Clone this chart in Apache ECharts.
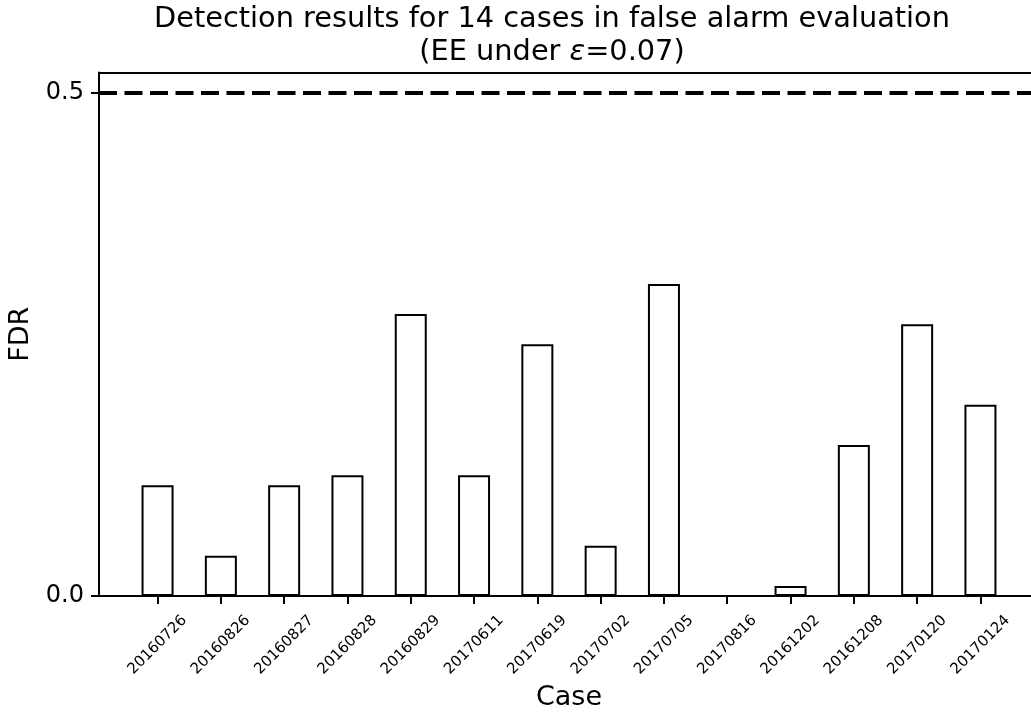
<!DOCTYPE html>
<html>
<head>
<meta charset="utf-8">
<script src="https://cdn.jsdelivr.net/npm/echarts@6/dist/echarts.min.js"></script>
<style>html,body{margin:0;padding:0;background:#fff}#c{width:1031px;height:713px}</style>
</head>
<body>
<div id="c"></div>
<script>
var categories = ['20160726','20160826','20160827','20160828','20160829','20170611','20170619','20170702','20170705','20170816','20161202','20161208','20170120','20170124'];
var fdrValues = [0.11, 0.04, 0.11, 0.12, 0.28, 0.12, 0.25, 0.05, 0.31, 0.0, 0.01, 0.15, 0.27, 0.19];
var yTicks = [0, 0.5];
var threshold = 0.5;

var tickIdx = categories.map(function(c, i){ return i; });
var barData = categories.map(function(c, i){ return [i, fdrValues[i]]; });

var xMin = -0.925, xMax = 13.925;
var chart = echarts.init(document.getElementById('c'));
var font = 'DejaVu Sans';
chart.setOption({
  backgroundColor: '#fff',
  animation: false,
  title: {
    text: '{a|Detection results for 14 cases in false alarm evaluation}\n{a|(EE under }{i|ε}{a|=0.07)}',
    left: 547,
    top: -2,
    textAlign: 'center',
    textStyle: {
      fontWeight: 'normal',
      rich: {
        a: {fontFamily: font, fontSize: 28.8, fontWeight: 'normal', color: '#000', lineHeight: 33},
        i: {fontFamily: font, fontSize: 28.8, fontWeight: 'normal', color: '#000', fontStyle: 'italic', lineHeight: 33}
      }
    }
  },
  grid: {left: 99, top: 72.5, bottom: 117, width: 940, show: false, containLabel: false, outerBoundsMode: 'none'},
  xAxis: [{
    type: 'value',
    min: xMin,
    max: xMax,
    name: 'Case',
    nameLocation: 'middle',
    nameGap: 83,
    nameTextStyle: {fontFamily: font, fontSize: 27, color: '#000'},
    axisLine: {show: true, onZero: false, lineStyle: {color: '#000', width: 2}},
    axisTick: {show: true, customValues: tickIdx, length: 8, lineStyle: {color: '#000', width: 2}},
    axisLabel: {
      customValues: tickIdx,
      rotate: 45,
      align: 'center',
      verticalAlign: 'middle',
      margin: 49,
      fontFamily: font,
      fontSize: 15,
      color: '#000',
      formatter: function(v){ return categories[Math.round(v)]; }
    },
    splitLine: {show: false}
  }, {
    type: 'value',
    position: 'top',
    min: xMin,
    max: xMax,
    axisLine: {show: true, onZero: false, lineStyle: {color: '#000', width: 2}},
    axisTick: {show: false},
    axisLabel: {show: false},
    splitLine: {show: false}
  }],
  yAxis: {
    type: 'value',
    min: 0,
    max: 0.52,
    name: 'FDR',
    nameLocation: 'middle',
    nameGap: 59,
    nameTextStyle: {fontFamily: font, fontSize: 27, color: '#000'},
    axisLine: {show: true, onZero: false, lineStyle: {color: '#000', width: 2}},
    axisTick: {show: true, customValues: yTicks, length: 8, lineStyle: {color: '#000', width: 2}},
    axisLabel: {
      customValues: yTicks,
      margin: 15,
      fontFamily: font,
      fontSize: 24,
      color: '#000',
      formatter: function(v){ return v.toFixed(1); }
    },
    splitLine: {show: false}
  },
  series: [{
    type: 'bar',
    data: barData,
    barWidth: 32,
    itemStyle: {color: '#fff', borderColor: '#000', borderWidth: 2},
    silent: true,
    markLine: {
      silent: true,
      symbol: ['none', 'none'],
      label: {show: false},
      lineStyle: {color: '#000', width: 4, type: [18, 7.5]},
      data: [{yAxis: threshold}]
    }
  }]
});
</script>
</body>
</html>
